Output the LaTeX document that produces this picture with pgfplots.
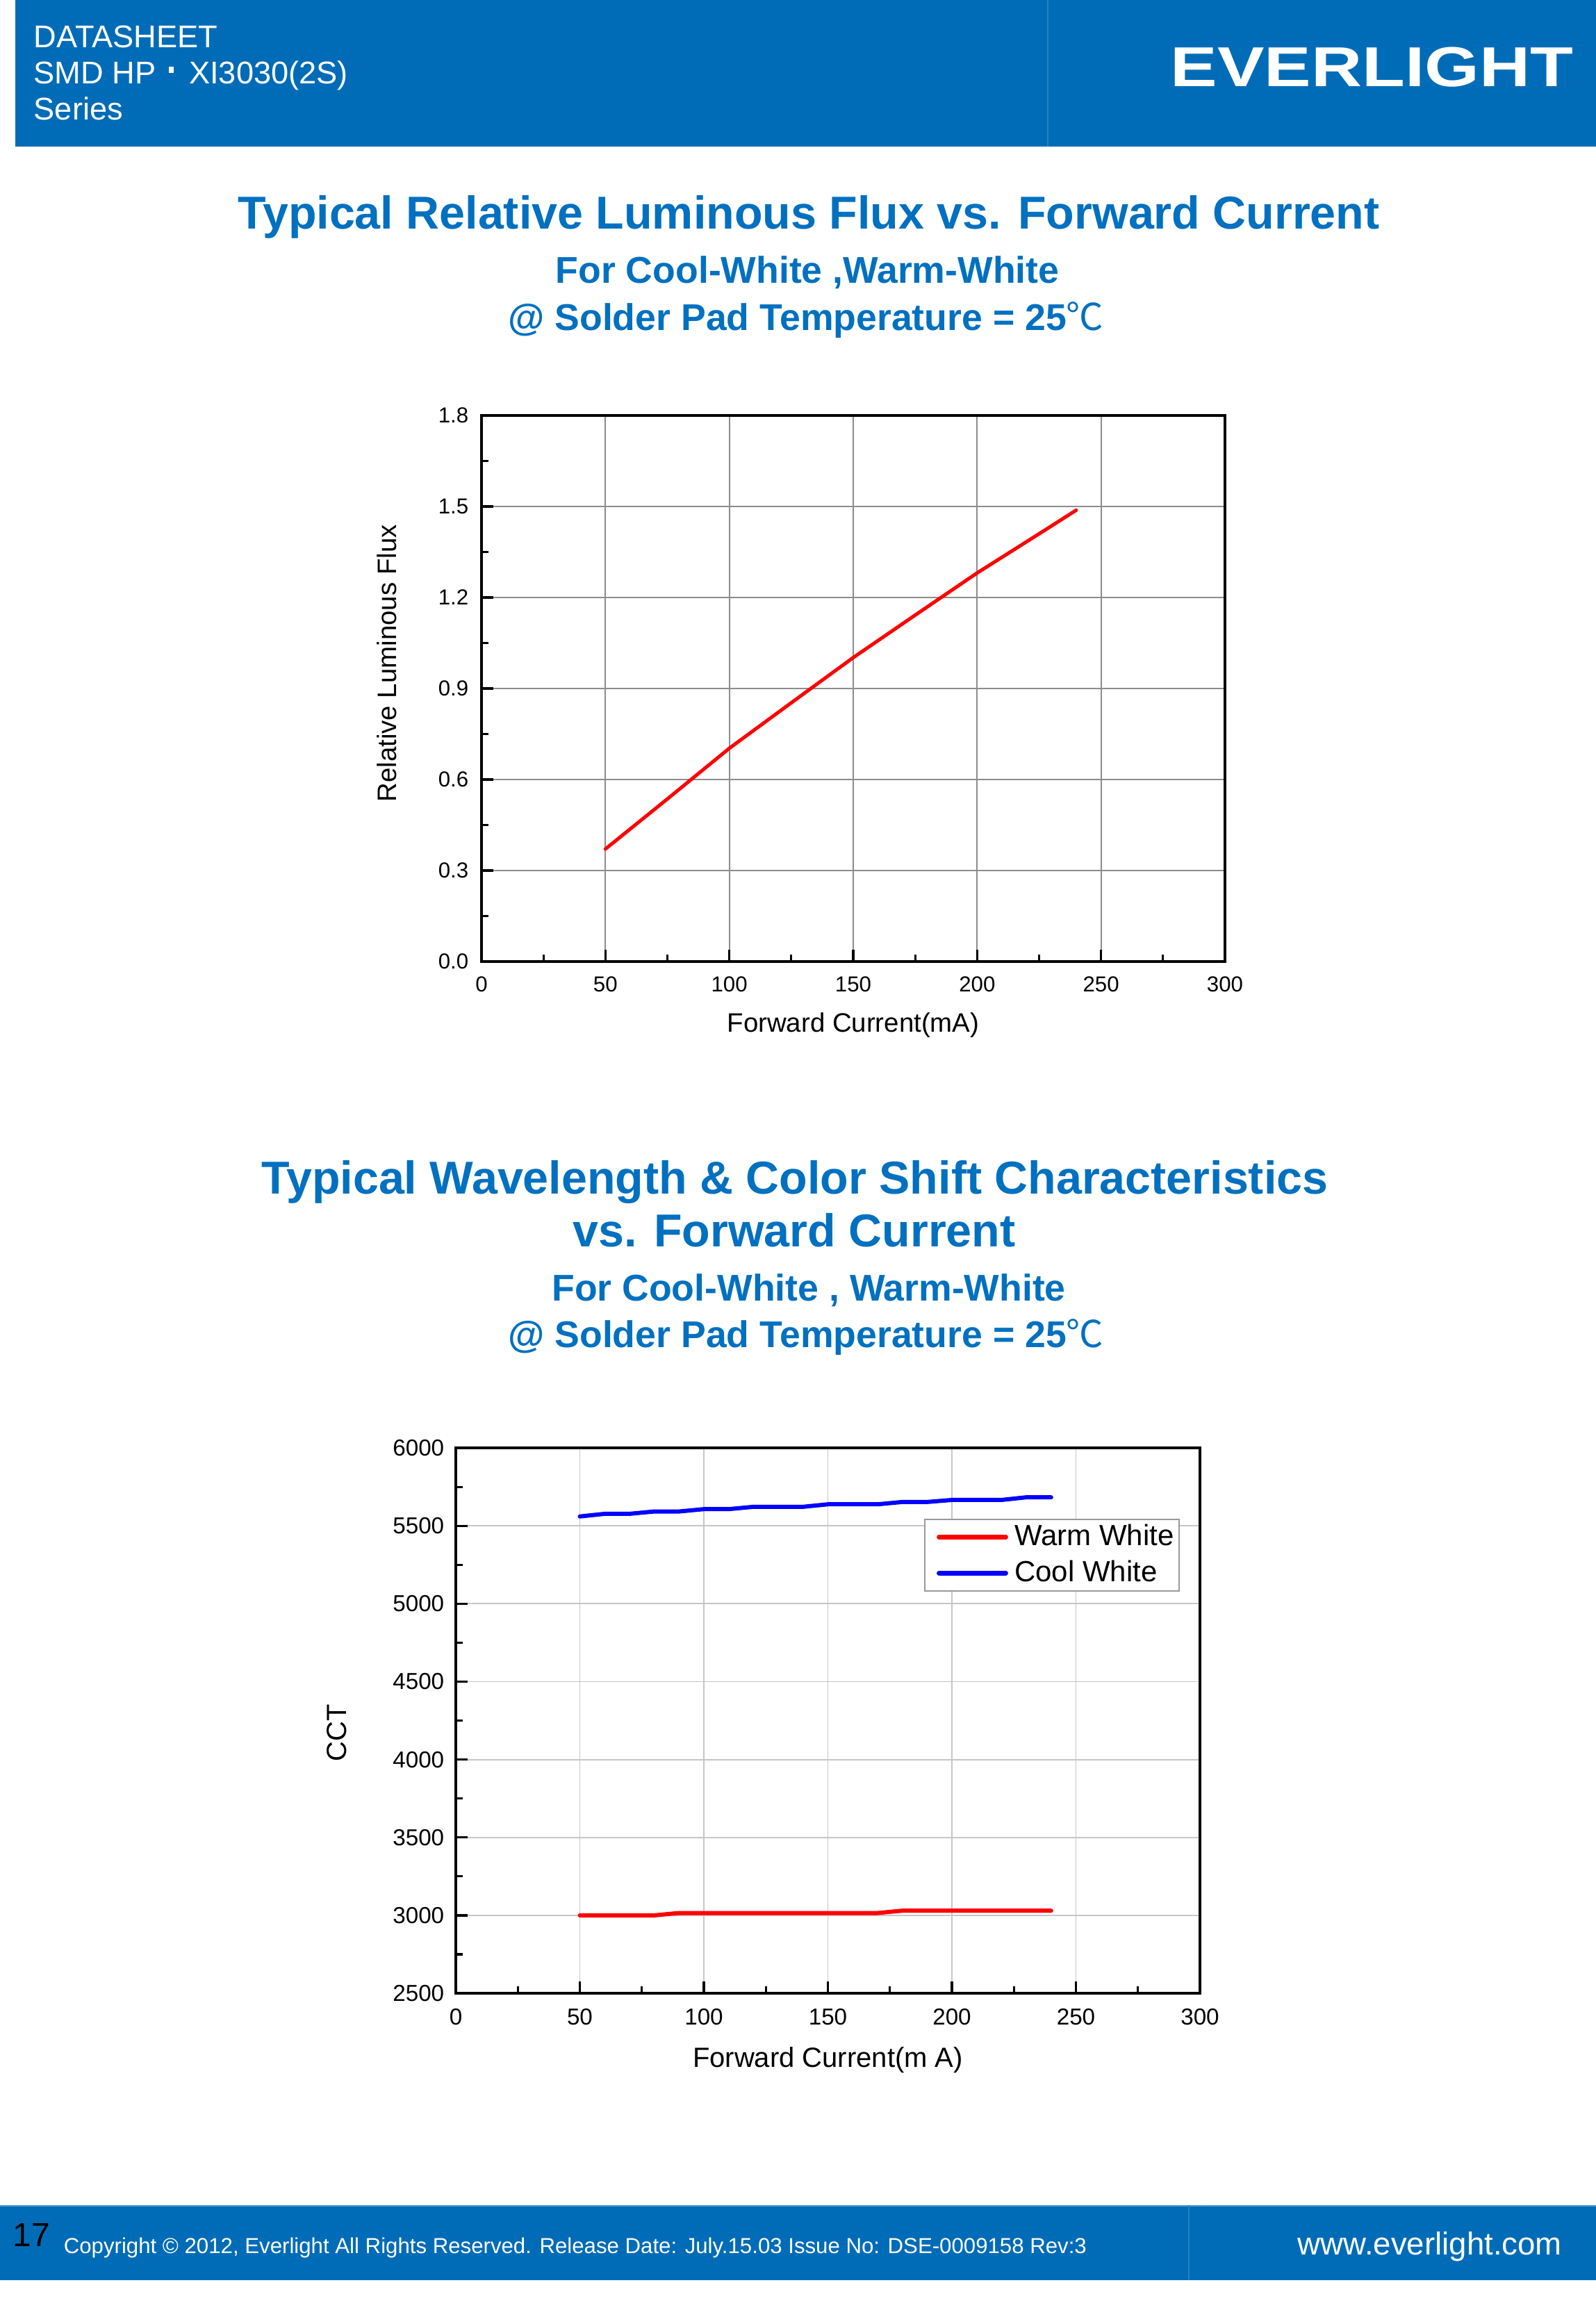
\documentclass[border=0pt]{standalone}
\usepackage{fontspec}
\setmainfont{Liberation Sans}
\newfontfamily\cjk{Noto Sans CJK SC}
\usepackage{pgfplots}
\pgfplotsset{compat=1.18}

\definecolor{barblue}{RGB}{0,108,183}
\definecolor{ttlblue}{RGB}{0,112,192}
\newcommand{\fs}[1]{\fontsize{#1}{#1}\selectfont}

\pgfplotsset{
  evaxis/.style={
    scale only axis, anchor=south west,
    xmin=0, xmax=300, xtick={0,50,...,300}, minor x tick num=1,
    xtick pos=left, ytick pos=left, tick align=inside,
    axis line style={black, line width=0.9pt},
    tick style={black, line width=0.8pt},
    major tick length=4.25pt, minor tick length=2.5pt,
    xmajorgrids, ymajorgrids,
    /pgf/number format/assume math mode=true,
    xticklabel style={inner sep=0pt, anchor=north},
    yticklabel style={inner sep=0pt, anchor=east},
  }
}

\begin{document}
\begin{tikzpicture}
\path[use as bounding box] (0pt,0pt) rectangle (574.25pt,-833.75pt);
\begin{scope}[x=0.25pt,y=-0.25pt]
  % header and footer bars
  \fill[barblue] (22,0) rectangle (2297,211);
  \draw[barblue!85!white, line width=0.3pt] (1508,0) -- (1508,211);
  \fill[barblue] (0,3174) rectangle (2297,3282);
  \draw[barblue!70!white, line width=0.6pt] (0,3175) -- (2297,3175);
  \draw[barblue!85!white, line width=0.3pt] (1711,3174) -- (1711,3282);

  \node[anchor=base west, inner sep=0, text=white] at (48,68) {\fs{11.3}DATASHEET};
  \node[anchor=base west, inner sep=0, text=white] at (48,120) {\fs{11.3}SMD HP\hspace{4.5pt}\rule[3.7pt]{1.9pt}{2.4pt}\hspace{5.5pt}XI3030(2S)};
  \node[anchor=base west, inner sep=0, text=white] at (48,172) {\fs{11.3}Series};
  \node[anchor=base west, inner sep=0, text=white] at (1684,124) {\scalebox{1.25}[1]{\fs{20.25}\bfseries EVERLIGHT}};

  \node[anchor=base west, inner sep=0, text=black] at (18,3233) {\fs{12}17};
  \node[anchor=base west, inner sep=0, text=white] at (91,3243) {\fs{7.8}Copyright © 2012, Everlight All Rights Reserved. Release Date: July.15.03 Issue No: DSE-0009158 Rev:3};
  \node[anchor=base west, inner sep=0, text=white] at (1867,3245) {\fs{11.4}www.everlight.com};

  % titles
  \node[anchor=base, inner sep=0, text=ttlblue] at (1164,329) {\fs{16.6}\bfseries Typical Relative Luminous Flux vs. Forward Current};
  \node[anchor=base, inner sep=0, text=ttlblue] at (1162,407) {\fs{13.4}\bfseries For Cool-White ,Warm-White};
  \node[anchor=base, inner sep=0, text=ttlblue] at (1160,475) {\fs{13.4}\bfseries @ Solder Pad Temperature = 25{\cjk\mdseries ℃}};

  \node[anchor=base, inner sep=0, text=ttlblue] at (1144,1718) {\fs{16.6}\bfseries Typical Wavelength \& Color Shift Characteristics};
  \node[anchor=base, inner sep=0, text=ttlblue] at (1143,1794) {\fs{16.6}\bfseries vs. Forward Current};
  \node[anchor=base, inner sep=0, text=ttlblue] at (1164,1872) {\fs{13.4}\bfseries For Cool-White , Warm-White};
  \node[anchor=base, inner sep=0, text=ttlblue] at (1160,1939) {\fs{13.4}\bfseries @ Solder Pad Temperature = 25{\cjk\mdseries ℃}};
\end{scope}

% relative luminous flux
\begin{axis}[evaxis,
  at={(173.25pt,-346pt)}, width=267.5pt, height=196.5pt,
  ymin=0, ymax=1.8, ytick={0,0.3,0.6,0.9,1.2,1.5,1.8}, minor y tick num=1,
  yticklabel style={/pgf/number format/fixed, /pgf/number format/fixed zerofill, /pgf/number format/precision=1},
  major grid style={gray!90, line width=0.45pt},
  xticklabel style={font=\fs{7.8}, yshift=-5.1pt},
  yticklabel style={font=\fs{7.8}, xshift=-4.5pt},
  xlabel={Forward Current(mA)}, ylabel={Relative Luminous Flux},
  xlabel style={font=\fs{9.6}, at={(axis description cs:0.5,-0.117)}, anchor=center},
  ylabel style={font=\fs{9.6}, at={(axis description cs:-0.1277,0.546)}, anchor=center},
]
\addplot[red, line width=1.25pt, line cap=round] coordinates {
  (50,0.371) (75,0.536) (100,0.703) (125,0.853) (150,1.002)
  (175,1.142) (200,1.281) (225,1.410) (240,1.488)
};
\end{axis}

% CCT
\begin{axis}[evaxis,
  at={(164pt,-717.25pt)}, width=267.75pt, height=196.25pt,
  ymin=2500, ymax=6000, ytick={2500,3000,...,6000}, minor y tick num=1,
  yticklabel style={/pgf/number format/1000 sep={}},
  major grid style={gray!45, line width=0.45pt},
  xticklabel style={font=\fs{8.3}, yshift=-5.25pt},
  yticklabel style={font=\fs{8.3}, xshift=-4pt},
  xlabel={Forward Current(m A)}, ylabel={CCT},
  xlabel style={font=\fs{10}, at={(axis description cs:0.5,-0.1224)}, anchor=center},
  ylabel style={font=\fs{10}, at={(axis description cs:-0.1595,0.477)}, anchor=center},
  legend style={at={(axis description cs:0.9725,0.8706)}, anchor=north east,
    draw=gray!80, line width=0.5pt, fill=white, font=\fs{10.5},
    inner xsep=1.75pt, inner ysep=0.85pt, row sep=1.9pt, column sep=2.3pt,
    nodes={inner xsep=0pt, inner ysep=1pt}},
  legend cell align=left,
  legend image code/.code={\path (0pt,0pt); \draw[#1, line width=1.7pt] (2.5pt,0pt) -- (26.5pt,0pt);},
]
\addplot[red, line width=1.5pt, line cap=round] coordinates {
  (50,3000) (60,3000) (70,3000) (80,3000) (90,3015) (100,3015) (110,3015)
  (120,3015) (130,3015) (140,3015) (150,3015) (160,3015) (170,3015)
  (180,3030) (190,3030) (200,3030) (210,3030) (220,3030) (230,3030) (240,3030)
};
\addplot[blue, line width=1.5pt, line cap=round] coordinates {
  (50,5560) (60,5577) (70,5577) (80,5592) (90,5592) (100,5607) (110,5607)
  (120,5622) (130,5622) (140,5622) (150,5638) (160,5638) (170,5638)
  (180,5653) (190,5653) (200,5666) (210,5666) (220,5666) (230,5683) (240,5683)
};
\legend{Warm White, Cool White}
\end{axis}
\end{tikzpicture}
\end{document}
